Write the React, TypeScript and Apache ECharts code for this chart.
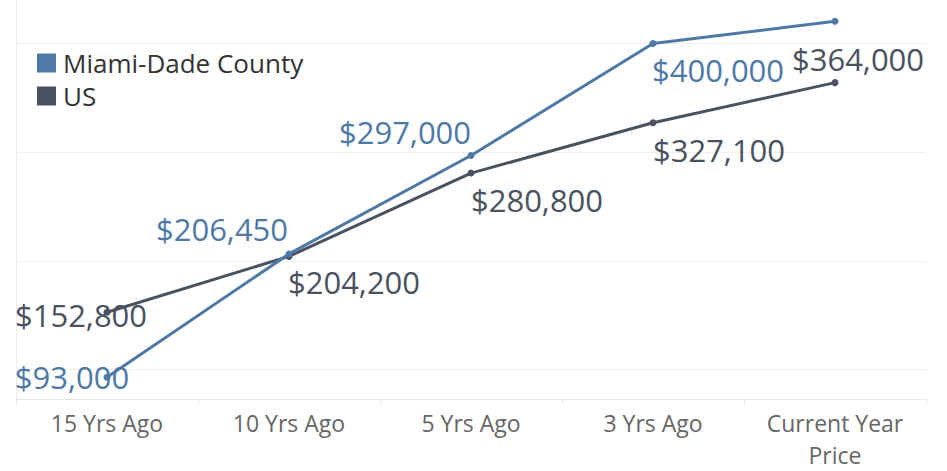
import React, { useEffect, useRef } from "react";
import * as echarts from "echarts";

const categories = ["15 Yrs Ago", "10 Yrs Ago", "5 Yrs Ago", "3 Yrs Ago", "Current Year\nPrice"];
const miamiValues = [93000, 206450, 297000, 400000, 420500];
const usValues = [152800, 204200, 280800, 327100, 364000];
const gridValues = [100000, 200000, 300000, 400000];
const miamiLabelShown = [true, true, true, true, false];

// label placement (pixel offsets from each point)
const miamiOffsets = [[-35, 0], [-67, -25], [-66, -23], [65, 27], [0, 0]];
const usOffsets = [[-26, 3], [65, 26], [66, 27], [66, 27], [23, -24]];

const MIAMI = "#4e79a7";
const US = "#4a5261";
const FONT = "'Open Sans', 'Noto Sans', sans-serif";

const fmt = (v: number) => "$" + v.toLocaleString("en-US");

export default function App() {
  const ref = useRef<HTMLDivElement>(null);
  useEffect(() => {
    if (!ref.current) return;
    const chart = echarts.init(ref.current, undefined, { renderer: "svg" });
    const mk = (vals: number[], offs: number[][], shown: boolean[] | null) =>
      vals.map((v, i) => ({
        value: v,
        label: { show: shown ? shown[i] : true, offset: offs[i] },
      }));
    chart.setOption({
      animation: false,
      textStyle: { fontFamily: FONT },
      grid: { left: 16, right: 21, top: 0, bottom: 69 },
      legend: {
        orient: "vertical",
        left: 32,
        top: 45,
        itemWidth: 19,
        itemHeight: 19,
        itemGap: 7,
        icon: "rect",
        data: ["Miami-Dade County", "US"],
        textStyle: { fontSize: 26, color: "#333", fontFamily: FONT, padding: [0, 0, 0, 2] },
      },
      xAxis: {
        type: "category",
        data: categories,
        boundaryGap: true,
        axisLine: { show: true, lineStyle: { color: "#e8e8e8", width: 1 } },
        axisTick: { show: true, length: 6, lineStyle: { color: "#e8e8e8" } },
        axisLabel: { color: "#666", fontSize: 23, lineHeight: 32, margin: 8, fontFamily: FONT },
      },
      yAxis: {
        type: "value",
        min: 73000,
        max: 440000,
        axisLabel: { show: false },
        axisTick: { show: false },
        splitLine: { show: false },
        axisLine: { show: true, lineStyle: { color: "#ececec" } },
      },
      series: [
        {
          name: "US",
          type: "line",
          data: mk(usValues, usOffsets, null),
          symbol: "circle",
          symbolSize: 7,
          lineStyle: { color: US, width: 3 },
          itemStyle: { color: US },
          z: 3,
          label: {
            show: true,
            position: "inside",
            formatter: (p: any) => fmt(p.value),
            color: US,
            fontSize: 31,
            fontFamily: FONT,
          },
          markLine: {
            silent: true,
            symbol: "none",
            label: { show: false },
            lineStyle: { color: "#efefef", type: "solid", width: 1 },
            data: gridValues.map((v) => ({ yAxis: v })),
            z: 1,
          },
        },
        {
          name: "Miami-Dade County",
          type: "line",
          data: mk(miamiValues, miamiOffsets, miamiLabelShown),
          symbol: "circle",
          symbolSize: 7,
          lineStyle: { color: MIAMI, width: 3 },
          itemStyle: { color: MIAMI },
          z: 4,
          label: {
            show: true,
            position: "inside",
            formatter: (p: any) => fmt(p.value),
            color: MIAMI,
            fontSize: 31,
            fontFamily: FONT,
          },
        },
      ],
    });
    return () => chart.dispose();
  }, []);
  return <div ref={ref} style={{ width: 947, height: 471, position: "absolute", left: 0, top: 0 }} />;
}
